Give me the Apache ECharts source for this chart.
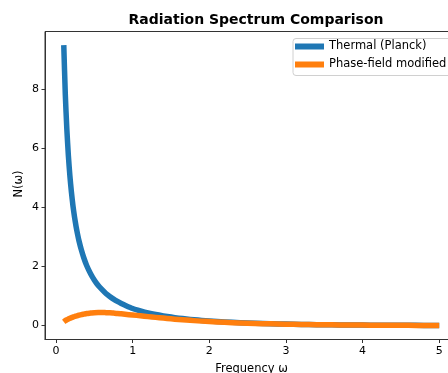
<!DOCTYPE html>
<html>
<head>
<meta charset="utf-8">
<script src="https://cdn.jsdelivr.net/npm/echarts@6/dist/echarts.min.js"></script>
<style>html,body{margin:0;padding:0;background:#fff}#c{width:448px;height:373px}</style>
</head>
<body>
<div id="c"></div>
<script>
var omega = [0.10,0.12,0.14,0.16,0.18,0.20,0.22,0.24,0.26,0.28,0.30,0.33,0.36,0.40,0.45,0.50,0.55,0.60,0.65,0.70,0.75,0.80,0.85,0.90,1.0,1.1,1.2,1.3,1.4,1.5,1.6,1.7,1.8,1.9,2.0,2.2,2.4,2.6,2.8,3.0,3.2,3.4,3.6,3.8,4.0,4.2,4.4,4.6,4.8,5.0];
var thermal = [9.51,7.84,6.66,5.76,5.07,4.52,4.06,3.69,3.37,3.10,2.86,2.56,2.31,2.03,1.76,1.54,1.36,1.22,1.09,0.99,0.90,0.82,0.75,0.69,0.58,0.50,0.43,0.375,0.33,0.29,0.255,0.225,0.20,0.176,0.157,0.124,0.099,0.080,0.065,0.052,0.042,0.034,0.028,0.023,0.019,0.015,0.012,0.010,0.008,0.007];
var phaseField = [0.13,0.17,0.20,0.225,0.25,0.27,0.29,0.31,0.325,0.34,0.355,0.375,0.39,0.41,0.425,0.44,0.445,0.445,0.44,0.435,0.425,0.415,0.40,0.385,0.36,0.335,0.305,0.28,0.255,0.23,0.21,0.19,0.17,0.153,0.138,0.111,0.09,0.074,0.06,0.049,0.04,0.032,0.026,0.022,0.018,0.014,0.011,0.009,0.008,0.007];
var xTicks = [0,1,2,3,4,5];
var yTicks = [0,2,4,6,8];
var seriesNames = ['Thermal (Planck)','Phase-field modified'];
var yAxisTitle = 'N(ω)';

function pairs(xs, ys){ return xs.map(function(x,i){ return [x, ys[i]]; }); }

var font = 'DejaVu Sans';
var chart = echarts.init(document.getElementById('c'), null, {renderer:'canvas'});
chart.setOption({
  animation: false,
  backgroundColor: '#fff',
  title: {
    text: 'Radiation Spectrum Comparison',
    left: 251, top: 8, textAlign: 'center',
    textStyle: {fontFamily: font, fontWeight: 'bold', fontSize: 14, color: '#000'}
  },
  legend: {
    data: seriesNames.map(function(n){ return {name: n, icon: 'rect'}; }),
    orient: 'vertical', left: 293, top: 38.5,
    itemWidth: 29, itemHeight: 6, itemGap: 6,
    padding: [2, 6, 5, 2],
    backgroundColor: '#fff', borderColor: '#d0d0d0', borderWidth: 1, borderRadius: 3,
    textStyle: {fontFamily: font, fontSize: 11.5, color: '#000', lineHeight: 12}
  },
  graphic: [{
    type: 'text', x: 19, y: 184, rotation: Math.PI / 2,
    style: {text: yAxisTitle, fontFamily: font, fontSize: 11.5, fill: '#000', textAlign: 'center', textVerticalAlign: 'middle'}
  }],
  grid: {left: 45, top: 31.5, width: 413, height: 308, show: true, borderColor: '#333', borderWidth: 1,
         containLabel: false, outerBoundsMode: 'none'},
  xAxis: {
    type: 'value', min: -0.145, max: 5.245,
    name: 'Frequency ω', nameLocation: 'middle', nameGap: 24,
    nameTextStyle: {fontFamily: font, fontSize: 11.5, color: '#000'},
    axisLine: {show: true, onZero: false, lineStyle: {color: '#333', width: 1}},
    axisTick: {show: true, inside: false, length: 3.5, customValues: xTicks, lineStyle: {color: '#333'}},
    axisLabel: {customValues: xTicks, margin: 6, fontFamily: font, fontSize: 11, color: '#000'},
    splitLine: {show: false}
  },
  yAxis: {
    type: 'value', min: -0.47, max: 9.97,
    axisLine: {show: true, onZero: false, lineStyle: {color: '#333', width: 1}},
    axisTick: {show: true, inside: false, length: 3.5, customValues: yTicks, lineStyle: {color: '#333'}},
    axisLabel: {customValues: yTicks, margin: 6, fontFamily: font, fontSize: 11, color: '#000'},
    splitLine: {show: false}
  },
  series: [
    {name: seriesNames[0], type: 'line', data: pairs(omega, thermal), showSymbol: false, symbol: 'none', smooth: 0.2,
     color: '#1f77b4', lineStyle: {width: 5.5, color: '#1f77b4', cap: 'butt', join: 'round'}, z: 2},
    {name: seriesNames[1], type: 'line', data: pairs(omega, phaseField), showSymbol: false, symbol: 'none', smooth: 0.2,
     color: '#ff7f0e', lineStyle: {width: 5.5, color: '#ff7f0e', cap: 'butt', join: 'round'}, z: 3}
  ]
});
</script>
</body>
</html>
